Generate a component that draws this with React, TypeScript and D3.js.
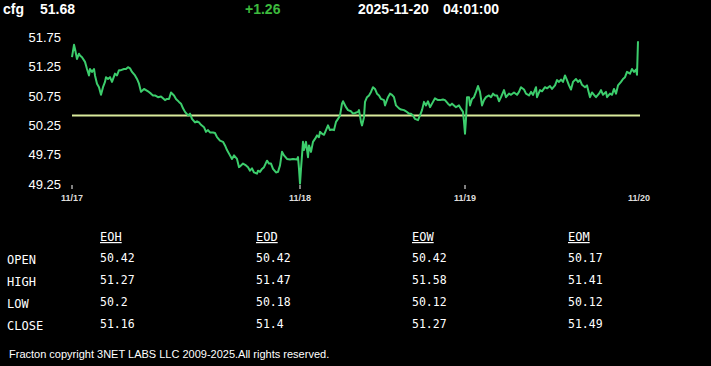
import React from "react";
import * as d3 from "d3";

const symbol = "cfg";
const lastPrice = "51.68";
const change = "+1.26";
const dateText = "2025-11-20";
const timeText = "04:01:00";
const prevClose = 50.42;

const yTicks = [49.25, 49.75, 50.25, 50.75, 51.25, 51.75];
const dayLabels = ["11/17", "11/18", "11/19", "11/20"];
const dayBars = [0, 228, 393, 567];

// [bar index, price]
const day1: [number, number][] = [
  [0, 51.41], [2, 51.62], [3, 51.55], [5, 51.38], [7, 51.47], [8, 51.44], [10, 51.41], [13, 51.33], [15, 51.21], [17, 51.1],
  [18, 51.21], [20, 51.16], [22, 51.21], [23, 51.1], [25, 50.96], [27, 50.9], [29, 50.77], [31, 50.9], [33, 50.99], [34, 51.07],
  [36, 51.04], [38, 51.07], [40, 50.99], [43, 51.13], [45, 51.1], [47, 51.19], [49, 51.19], [52, 51.21], [54, 51.21], [56, 51.24],
  [58, 51.22], [60, 51.16], [63, 51.1], [65, 51.04], [67, 50.96], [69, 50.82], [72, 50.87], [74, 50.85], [76, 50.83], [79, 50.79],
  [81, 50.76], [83, 50.76], [86, 50.73], [89, 50.74], [91, 50.71], [93, 50.68], [95, 50.7], [97, 50.7], [99, 50.81], [102, 50.76],
  [104, 50.7], [107, 50.65], [109, 50.62], [111, 50.54], [113, 50.48], [116, 50.42], [118, 50.45], [120, 50.36], [123, 50.3], [125, 50.32],
  [127, 50.3], [129, 50.26], [132, 50.22], [134, 50.14], [136, 50.17], [138, 50.13], [141, 50.13],
];
const day2: [number, number][] = [
  [143, 50.12], [145, 50.05], [148, 49.99], [151, 49.97], [153, 49.91], [155, 49.83], [157, 49.77], [160, 49.68], [162, 49.74], [165, 49.68],
  [167, 49.54], [169, 49.57], [171, 49.6], [174, 49.57], [176, 49.54], [178, 49.48], [180, 49.52], [182, 49.45], [185, 49.43], [186, 49.48],
  [188, 49.46], [190, 49.51], [192, 49.54], [195, 49.65], [197, 49.6], [199, 49.6], [201, 49.51], [204, 49.45], [206, 49.46], [208, 49.57],
  [210, 49.8], [212, 49.74], [215, 49.68], [218, 49.67], [221, 49.68], [225, 49.67], [226, 49.71], [227, 49.51], [228, 49.26], [229, 49.51],
  [231, 49.97], [232, 49.83], [234, 49.97], [236, 49.71], [237, 49.91], [239, 49.8], [241, 49.97], [243, 50.02], [245, 50.08], [247, 50.05],
  [248, 50.14], [250, 50.11], [252, 50.09], [254, 50.17], [256, 50.25], [258, 50.17], [260, 50.18], [262, 50.17], [264, 50.31], [266, 50.36],
  [268, 50.42], [270, 50.62], [271, 50.66], [274, 50.56], [276, 50.51], [279, 50.49], [281, 50.45],
];
const day3: [number, number][] = [
  [283, 50.46], [286, 50.48], [287, 50.51], [289, 50.31], [290, 50.25], [292, 50.39], [293, 50.65], [295, 50.73], [297, 50.76], [299, 50.82],
  [301, 50.9], [303, 50.87], [305, 50.79], [307, 50.76], [309, 50.7], [312, 50.68], [313, 50.59], [316, 50.73], [318, 50.79], [320, 50.77],
  [322, 50.73], [324, 50.59], [327, 50.54], [329, 50.52], [332, 50.51], [334, 50.49], [337, 50.45], [339, 50.45], [341, 50.42], [343, 50.36],
  [346, 50.34], [348, 50.42], [350, 50.51], [352, 50.65], [354, 50.59], [356, 50.66], [358, 50.56], [361, 50.65], [363, 50.71], [366, 50.68],
  [368, 50.68], [371, 50.69], [373, 50.68], [376, 50.62], [378, 50.59], [380, 50.62], [382, 50.59], [384, 50.56], [387, 50.59], [389, 50.53],
  [391, 50.48], [392, 50.31], [393, 50.11], [394, 50.36], [395, 50.73], [397, 50.73], [398, 50.59], [400, 50.7], [402, 50.73], [404, 50.82],
  [406, 50.92], [408, 50.82], [410, 50.59], [412, 50.68], [414, 50.73], [417, 50.76], [419, 50.73], [421, 50.79], [423, 50.76],
];
const day4: [number, number][] = [
  [425, 50.76], [427, 50.66], [429, 50.73], [432, 50.85], [434, 50.73], [437, 50.79], [439, 50.77], [442, 50.81], [445, 50.77], [447, 50.82],
  [449, 50.9], [452, 50.86], [454, 50.79], [457, 50.76], [459, 50.82], [461, 50.77], [464, 50.9], [465, 50.73], [468, 50.85], [470, 50.83],
  [473, 50.9], [475, 50.88], [478, 50.92], [480, 50.87], [483, 50.93], [485, 51.02], [487, 50.99], [489, 51.03], [491, 50.99], [493, 51.1],
  [495, 51.02], [497, 50.93], [499, 50.86], [501, 50.99], [504, 51.04], [506, 50.99], [508, 51.02], [510, 50.94], [513, 50.9], [515, 50.93],
  [518, 50.73], [520, 50.81], [522, 50.77], [524, 50.73], [527, 50.79], [529, 50.85], [531, 50.77], [534, 50.82], [535, 50.73], [538, 50.79],
  [540, 50.77], [542, 50.87], [544, 50.79], [546, 50.93], [549, 50.99], [551, 51.04], [553, 51.07], [555, 51.16], [558, 51.13], [560, 51.21],
  [562, 51.16], [564, 51.2], [565, 51.11], [566, 51.68],
];

const tableCols = ["EOH", "EOD", "EOW", "EOM"];
const tableRows = ["OPEN", "HIGH", "LOW", "CLOSE"];
const eohValues = ["50.42", "51.27", "50.2", "51.16"];
const eodValues = ["50.42", "51.47", "50.18", "51.4"];
const eowValues = ["50.42", "51.58", "50.12", "51.27"];
const eomValues = ["50.17", "51.41", "50.12", "51.49"];
const tableValues = [eohValues, eodValues, eowValues, eomValues];

const footer = "Fracton copyright 3NET LABS LLC 2009-2025.All rights reserved.";

const W = 711;
const H = 366;

export default function App() {
  const series = [...day1, ...day2, ...day3, ...day4];
  const x = d3.scaleLinear().domain([0, 567]).range([72, 639]);
  const y = d3.scaleLinear().domain([49.25, 51.75]).range([184.2, 37.2]);
  const line = d3
    .line<[number, number]>()
    .x((d) => x(d[0]))
    .y((d) => y(d[1]));

  const colX = [100, 256, 412, 568];
  const rowY = [262, 284, 306, 328];
  const sans = "'Liberation Sans', Arial, sans-serif";
  const mono = "'DejaVu Sans Mono', monospace";

  return (
    <svg
      width={W}
      height={H}
      style={{ position: "absolute", left: 0, top: 0, display: "block" }}
    >
      <rect x={0} y={0} width={W} height={H} fill="#000" />
      {/* header */}
      <g fontFamily={sans} fontWeight="bold" fontSize={14}>
        <text x={3} y={14} fill="#fff">{symbol}</text>
        <text x={40} y={14} fill="#fff">{lastPrice}</text>
        <text x={245} y={14} fill="#3dba3d">{change}</text>
        <text x={358} y={14} fill="#fff">{dateText}</text>
        <text x={443} y={14} fill="#fff">{timeText}</text>
      </g>
      {/* y axis labels */}
      <g fontFamily={sans} fontSize={13} fill="#fff">
        {yTicks.map((t) => (
          <text key={t} x={61} y={y(t)} textAnchor="end" dominantBaseline="central">
            {t.toFixed(2)}
          </text>
        ))}
      </g>
      {/* x axis ticks */}
      <g>
        {dayBars.map((b, i) =>
          i < dayBars.length - 1 ? (
            <line key={"t" + i} x1={x(b)} x2={x(b)} y1={185} y2={189} stroke="#fff" strokeWidth={1} />
          ) : null
        )}
        {dayBars.map((b, i) => (
          <text
            key={"l" + i}
            x={x(b)}
            y={201}
            textAnchor="middle"
            fontFamily={sans}
            fontWeight="bold"
            fontSize={9}
            fill="#ddd"
          >
            {dayLabels[i]}
          </text>
        ))}
      </g>
      {/* previous close line */}
      <line
        x1={x(0)}
        x2={x(568)}
        y1={y(prevClose)}
        y2={y(prevClose)}
        stroke="#d9ea9c"
        strokeWidth={2}
      />
      {/* price line */}
      <path d={line(series) || ""} fill="none" stroke="#3ccd6c" strokeWidth={2} strokeLinejoin="round" />
      {/* table */}
      <g fontFamily={mono} fill="#fff">
        {tableCols.map((c, ci) => (
          <text key={c} x={colX[ci]} y={241} fontSize={12} textDecoration="underline">
            {c}
          </text>
        ))}
        {tableRows.map((r, ri) => (
          <text key={r} x={7} y={rowY[ri] + 2} fontSize={12}>
            {r}
          </text>
        ))}
        {tableValues.map((col, ci) =>
          col.map((v, ri) => (
            <text key={ci + "-" + ri} x={colX[ci]} y={rowY[ri]} fontSize={11.5}>
              {v}
            </text>
          ))
        )}
      </g>
      {/* footer */}
      <text x={9} y={358} fontFamily={sans} fontSize={11} fill="#fff">
        {footer}
      </text>
    </svg>
  );
}
